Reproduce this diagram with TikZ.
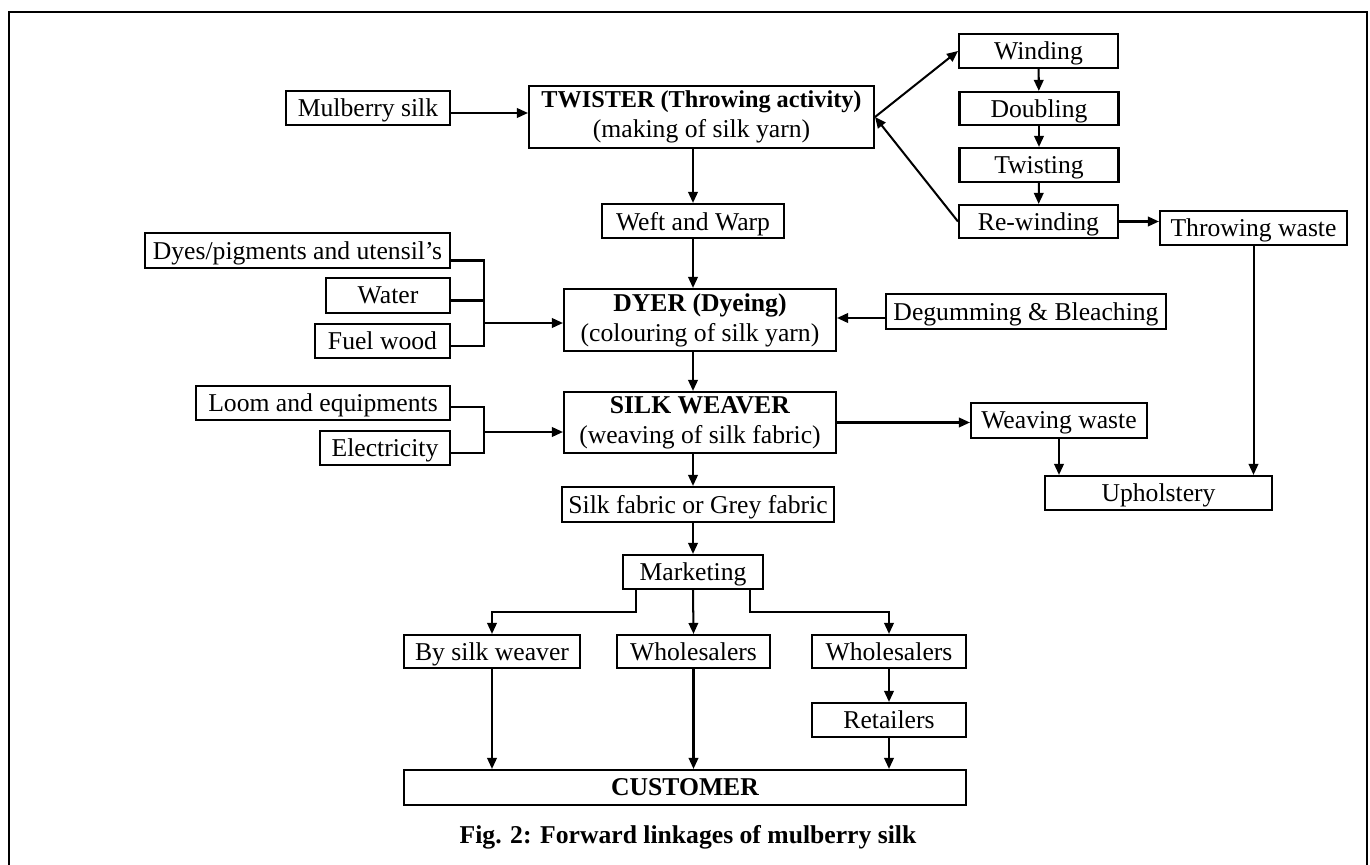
\documentclass[tikz,border=0pt]{standalone}
\usepackage{fontspec}
\setmainfont{Liberation Serif}
\usetikzlibrary{arrows.meta}
\tikzset{
  boxbase/.style={draw, line width=1.2pt, inner sep=0pt, font=\fontsize{14.6}{17}\selectfont},
  blk/.style={boxbase, minimum height=0.68cm, text depth=0pt},
  tall/.style={boxbase, align=center, minimum height=1.24cm},
  lnk/.style={line width=1.15pt, -{Triangle[length=0.22cm,width=0.19cm]}},
  wire/.style={line width=1.15pt}
}

\begin{document}
\begin{tikzpicture}[x=0.02cm, y=-0.02cm]
  \useasboundingbox (0,0) rectangle (1370,865);
  \draw[line width=1.2pt] (9,866) |- (1367,12) -- (1367,866);

  \node[blk, minimum width=3.28cm] (mulberry) at (368,108) {Mulberry silk};
  \node[tall, minimum width=6.9cm] (twister) at (701.5,117) {{\fontsize{13.8}{17}\selectfont\bfseries TWISTER (Throwing activity)}\\(making of silk yarn)};
  \node[blk, minimum width=3.18cm] (winding) at (1038.5,51) {Winding};
  \node[blk, minimum width=3.18cm, minimum height=0.66cm] (doubling) at (1039,108.5) {Doubling};
  \node[blk, minimum width=3.18cm] (twisting) at (1039,165) {Twisting};
  \node[blk, minimum width=3.18cm, minimum height=0.66cm] (rewinding) at (1038.5,221.5) {Re-winding};
  \node[blk, minimum width=3.74cm] (throwwaste) at (1253.5,228) {Throwing waste};
  \node[blk, minimum width=3.64cm] (weftwarp) at (693,221) {Weft and Warp};

  \node[blk, minimum width=6.1cm, minimum height=0.7cm] (dyes) at (297.5,250.5) {Dyes/pigments and utensil’s};
  \node[blk, minimum width=2.48cm, minimum height=0.7cm] (water) at (388,295.5) {Water};
  \node[blk, minimum width=2.7cm] (fuelwood) at (382.5,341) {Fuel wood};
  \node[tall, minimum width=5.44cm] (dyer) at (700,320) {\textbf{DYER (Dyeing)}\\(colouring of silk yarn)};
  \node[blk, minimum width=5.6cm, minimum height=0.7cm] (degum) at (1026,311.5) {Degumming \& Bleaching};

  \node[blk, minimum width=5.08cm] (loom) at (323,403) {Loom and equipments};
  \node[blk, minimum width=2.6cm] (electricity) at (385,448) {Electricity};
  \node[tall, minimum width=5.44cm, minimum height=1.22cm] (weaver) at (700,422.5) {\textbf{SILK WEAVER}\\(weaving of silk fabric)};
  \node[blk, minimum width=3.52cm, minimum height=0.7cm] (weavwaste) at (1059,420.5) {Weaving waste};
  \node[blk, minimum width=4.54cm] (upholstery) at (1158.5,493) {Upholstery};

  \node[blk, minimum width=5.44cm, minimum height=0.7cm] (fabric) at (698,504.5) {Silk fabric or Grey fabric};
  \node[blk, minimum width=2.8cm] (marketing) at (693,572) {Marketing};
  \node[blk, minimum width=3.52cm, minimum height=0.66cm] (bysilk) at (492,651.5) {By silk weaver};
  \node[blk, minimum width=3.06cm, minimum height=0.66cm] (wholesale) at (693.5,651.5) {Wholesalers};
  \node[blk, minimum width=3.08cm, minimum height=0.66cm] (wholesaleb) at (889,651.5) {Wholesalers};
  \node[blk, minimum width=3.08cm] (retailers) at (889,720) {Retailers};
  \node[blk, minimum width=11.24cm, minimum height=0.7cm, font=\fontsize{14.6}{17}\selectfont\bfseries] (customer) at (685,787.5) {CUSTOMER};
  \node[font=\fontsize{14.6}{17}\selectfont\bfseries] (caption) at (688,837) {Fig. 2: Forward linkages of mulberry silk};

  % throwing
  \draw[lnk] ([yshift=-0.1cm]mulberry.east) -- ([yshift=-0.1cm]mulberry.east -| twister.west);
  \draw[lnk] (twister.east) -- (winding.west);
  \draw[lnk] (rewinding.west) -- (twister.east);
  \foreach \a/\b in {winding/doubling, doubling/twisting, twisting/rewinding}
    \draw[lnk] (\a) -- (\b);
  \draw[lnk] (rewinding.east) -- (rewinding.east -| throwwaste.west);
  \draw[lnk] (throwwaste.south) -- (throwwaste.south |- upholstery.north);
  \draw[lnk] (weftwarp.north |- twister.south) -- (weftwarp.north);
  \draw[lnk] (weftwarp.south) -- (weftwarp.south |- dyer.north);

  % dyeing inputs
  \coordinate (dyejoin) at (484,323);
  \draw[wire] ([yshift=-0.2cm]dyes.east) -| ([yshift=-0.1cm]fuelwood.east -| dyejoin) -- ([yshift=-0.1cm]fuelwood.east);
  \draw[wire] ([yshift=-0.1cm]water.east) -- ([yshift=-0.1cm]water.east -| dyejoin);
  \draw[lnk] (dyejoin) -- (dyejoin -| dyer.west);
  \draw[lnk] ([yshift=-0.13cm]degum.west) -- ([yshift=-0.13cm]degum.west -| dyer.east);

  % weaving inputs
  \coordinate (loomjoin) at (484,432);
  \draw[wire] ([yshift=-0.08cm]loom.east) -| ([yshift=-0.1cm]electricity.east -| loomjoin) -- ([yshift=-0.1cm]electricity.east);
  \draw[lnk] (loomjoin) -- (loomjoin -| weaver.west);
  \draw[lnk] (dyer.south -| weftwarp) -- (weaver.north -| weftwarp);
  \draw[lnk] (weaver.south -| weftwarp) -- (fabric.north -| weftwarp);
  \draw[lnk] (weaver.east) -- (weaver.east -| weavwaste.west);
  \draw[lnk] (weavwaste.south) -- (weavwaste.south |- upholstery.north);

  % marketing
  \draw[lnk] (fabric.south -| marketing) -- (marketing.north);
  \draw[lnk] (marketing.south) -- (wholesale.north);
  \draw[lnk] ([xshift=0.28cm]marketing.south west) -- ++(0,22) -| (bysilk.north);
  \draw[lnk] ([xshift=-0.28cm]marketing.south east) -- ++(0,22) -| (wholesaleb.north);
  \draw[lnk] (wholesaleb) -- (retailers);
  \foreach \n in {bysilk, wholesale, retailers}
    \draw[lnk] (\n.south) -- (\n.south |- customer.north);
\end{tikzpicture}
\end{document}
